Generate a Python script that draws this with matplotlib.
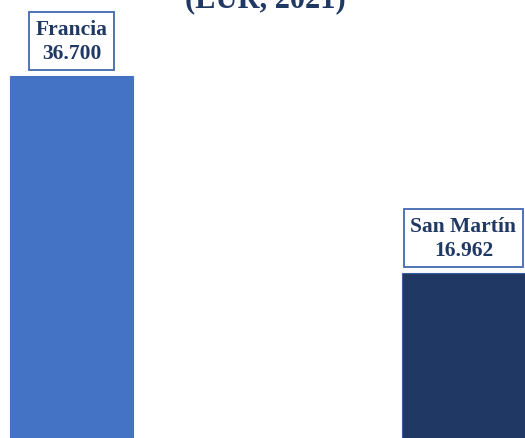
import matplotlib
matplotlib.use('Agg')
import matplotlib.pyplot as plt

countries = ["Francia", "San Martín"]
values = [36700, 16962]
value_labels = ["36.700", "16.962"]
bar_colors = ["#4472C4", "#203864"]

text_color = "#203864"
box_edge = "#4169B0"

fig = plt.figure(figsize=(5.25, 4.39), dpi=100)
ax = fig.add_axes([0, 0, 1, 1])

x = list(range(len(countries)))
ax.bar(x, values, width=0.314, color=bar_colors, edgecolor=["#4472C4", "#3A5FA0"], linewidth=0.8)

for xi, name, lab, v in zip(x, countries, value_labels, values):
    ax.annotate(
        f"{name}\n{lab}",
        xy=(xi, v), xytext=(0, 9.5), textcoords='offset points',
        ha='center', va='bottom', multialignment='center',
        fontfamily='Liberation Serif', fontsize=15.5, fontweight='bold',
        color=text_color, linespacing=1.25,
        bbox=dict(boxstyle='square,pad=0.32', fc='white', ec=box_edge, lw=1.3),
    )

ax.set_xlim(-0.1824, 1.157)
ax.set_ylim(430, 44415)
ax.axis('off')

fig.text(0.505, 0.983, "(EUR, 2021)", ha='center', va='baseline',
         fontfamily='Liberation Serif', fontsize=22, fontweight='bold',
         color=text_color)

fig.savefig("out.png", dpi=100)
plt.close(fig)
